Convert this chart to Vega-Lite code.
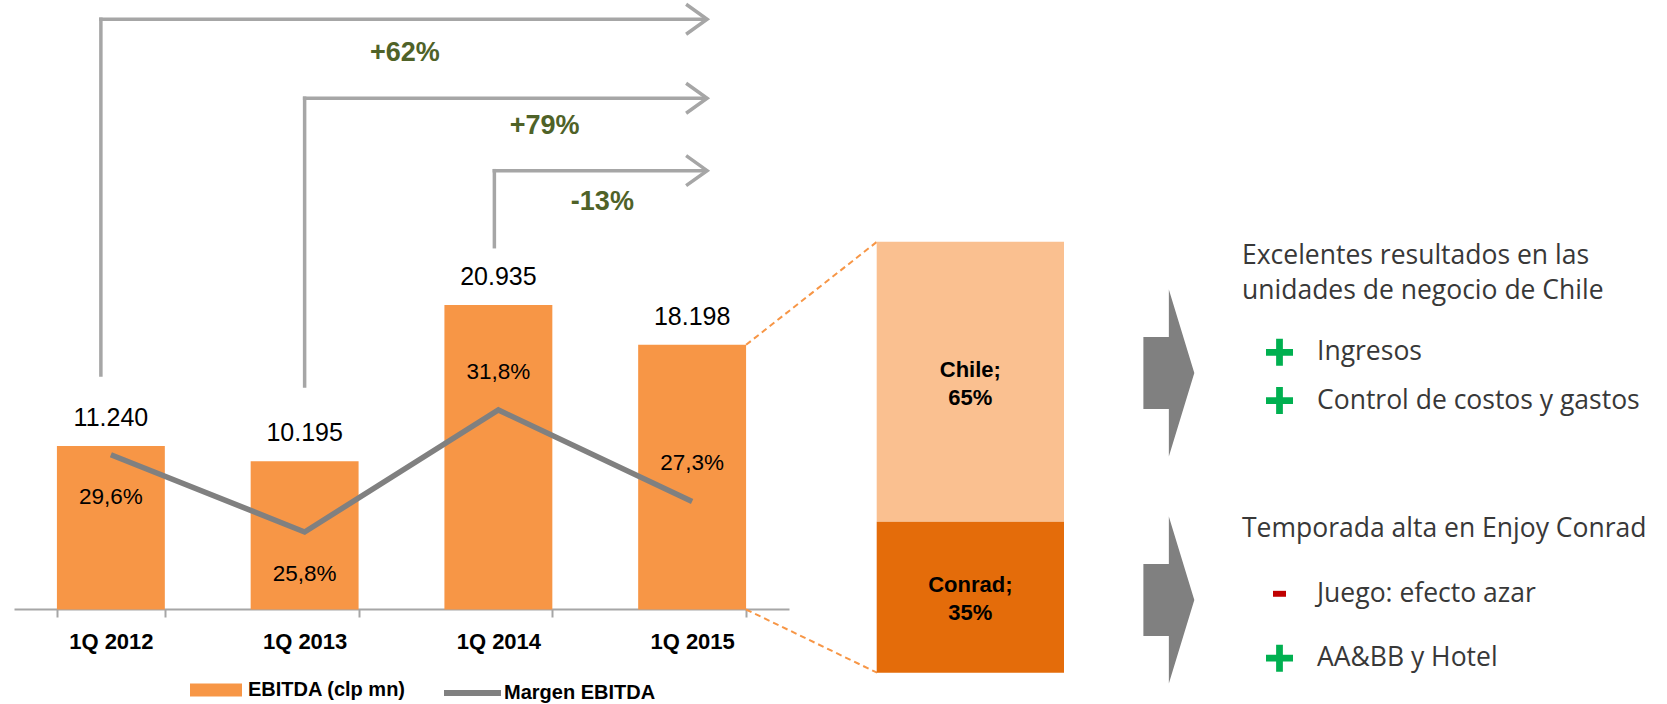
{
  "$schema": "https://vega.github.io/schema/vega-lite/v6.json",
  "width": 1667,
  "height": 704,
  "autosize": {"type": "none"},
  "padding": 0,
  "background": "white",
  "config": {
    "view": {"stroke": null},
    "locale": {"number": {"decimal": ",", "thousands": ".", "grouping": [3], "currency": ["$", ""], "minus": "-"}},
    "text": {"font": "Liberation Sans"}
  },
  "datasets": {
    "quarters": [
      {"quarter": "1Q 2012", "ebitda": 11240, "margin": 0.296},
      {"quarter": "1Q 2013", "ebitda": 10195, "margin": 0.258},
      {"quarter": "1Q 2014", "ebitda": 20935, "margin": 0.318},
      {"quarter": "1Q 2015", "ebitda": 18198, "margin": 0.273}
    ],
    "growth": [
      {"from": "1Q 2012", "to": "1Q 2015", "growth": 0.62},
      {"from": "1Q 2013", "to": "1Q 2015", "growth": 0.79},
      {"from": "1Q 2014", "to": "1Q 2015", "growth": -0.13}
    ],
    "mix": [
      {"segment": "Chile", "share": 0.65, "label": "Chile; 65%"},
      {"segment": "Conrad", "share": 0.35, "label": "Conrad; 35%"}
    ],
    "notes": [
      {"text": "Excelentes resultados en las\nunidades de negocio de Chile", "kind": "heading"},
      {"text": "Ingresos", "kind": "bullet", "sign": "+"},
      {"text": "Control de costos y gastos", "kind": "bullet", "sign": "+"},
      {"text": "Temporada alta en Enjoy Conrad", "kind": "heading"},
      {"text": "Juego: efecto azar", "kind": "bullet", "sign": "-"},
      {"text": "AA&BB y Hotel", "kind": "bullet", "sign": "+"}
    ]
  },
  "resolve": {"scale": {"x": "independent", "y": "independent", "color": "independent", "shape": "independent"}},
  "layer": [
    {
      "layer": [
        {
          "data": {"name": "quarters"},
          "mark": {"type": "bar"},
          "encoding": {
            "x": {
              "field": "quarter", "type": "nominal",
              "scale": {"domain": ["1Q 2012", "1Q 2013", "1Q 2014", "1Q 2015"], "range": [14, 789], "paddingInner": 0.443, "paddingOuter": 0.2215},
              "axis": {
                "title": null, "offset": -95, "labelAngle": 0, "grid": false,
                "domainColor": "#a6a6a6", "domainWidth": 2,
                "tickColor": "#a6a6a6", "tickWidth": 2, "tickSize": 8, "tickBand": "extent",
                "labelFont": "Liberation Sans", "labelFontSize": 22, "labelFontWeight": "bold", "labelColor": "black", "labelPadding": 14
              }
            },
            "y": {"field": "ebitda", "type": "quantitative", "scale": {"domain": [0, 40000], "range": [609.5, 27.74], "nice": false, "zero": false}, "axis": null},
            "color": {
              "datum": "EBITDA (clp mn)",
              "scale": {"range": ["#f79646"]},
              "legend": {
                "title": null, "orient": "none", "legendX": 190, "legendY": 664, "padding": 0,
                "symbolType": "M-1,-0.25H1V0.25H-1Z", "symbolSize": 2704, "symbolStrokeWidth": 0, "symbolOpacity": 1,
                "labelFont": "Liberation Sans", "labelFontSize": 20, "labelFontWeight": "bold", "labelColor": "black", "labelOffset": 6
              }
            }
          }
        },
        {
          "data": {"name": "quarters"},
          "mark": {"type": "text", "dy": -28, "fontSize": 25, "baseline": "middle", "align": "center", "color": "black", "font": "Liberation Sans"},
          "encoding": {
            "x": {"field": "quarter", "type": "nominal"},
            "y": {"field": "ebitda", "type": "quantitative"},
            "text": {"field": "ebitda", "type": "quantitative", "format": ",d"}
          }
        },
        {
          "data": {"name": "growth"},
          "transform": [{"filter": "datum.from === '1Q 2012'"}],
          "layer": [
            {"mark": {"type": "rule", "color": "#a6a6a6", "strokeWidth": 3.5, "strokeCap": "square", "xOffset": -10},
             "encoding": {"x": {"field": "from", "type": "nominal"}, "y": {"datum": 16124}, "y2": {"datum": 40581}}},
            {"mark": {"type": "rule", "color": "#a6a6a6", "strokeWidth": 3.5, "strokeCap": "square", "xOffset": -10, "x2Offset": 13},
             "encoding": {"x": {"field": "from", "type": "nominal"}, "x2": {"field": "to"}, "y": {"datum": 40581}}},
            {"mark": {"type": "point", "shape": "M-1,-0.714L0,0L-1,0.714", "size": 1764, "filled": false, "color": "#a6a6a6", "strokeWidth": 3.5, "opacity": 1, "xOffset": 15},
             "encoding": {"x": {"field": "to", "type": "nominal"}, "y": {"datum": 40581}}},
            {"mark": {"type": "text", "font": "Liberation Sans", "fontSize": 27, "fontWeight": "bold", "color": "#4f6228", "dx": 294, "dy": 34, "baseline": "middle", "align": "center"},
             "encoding": {"x": {"field": "from", "type": "nominal"}, "y": {"datum": 40581}, "text": {"field": "growth", "type": "quantitative", "format": "+.0%"}}}
          ]
        },
        {
          "data": {"name": "growth"},
          "transform": [{"filter": "datum.from === '1Q 2013'"}],
          "layer": [
            {"mark": {"type": "rule", "color": "#a6a6a6", "strokeWidth": 3.5, "strokeCap": "square"},
             "encoding": {"x": {"field": "from", "type": "nominal"}, "y": {"datum": 15368}, "y2": {"datum": 35149}}},
            {"mark": {"type": "rule", "color": "#a6a6a6", "strokeWidth": 3.5, "strokeCap": "square", "x2Offset": 13},
             "encoding": {"x": {"field": "from", "type": "nominal"}, "x2": {"field": "to"}, "y": {"datum": 35149}}},
            {"mark": {"type": "point", "shape": "M-1,-0.714L0,0L-1,0.714", "size": 1764, "filled": false, "color": "#a6a6a6", "strokeWidth": 3.5, "opacity": 1, "xOffset": 15},
             "encoding": {"x": {"field": "to", "type": "nominal"}, "y": {"datum": 35149}}},
            {"mark": {"type": "text", "font": "Liberation Sans", "fontSize": 27, "fontWeight": "bold", "color": "#4f6228", "dx": 240, "dy": 28, "baseline": "middle", "align": "center"},
             "encoding": {"x": {"field": "from", "type": "nominal"}, "y": {"datum": 35149}, "text": {"field": "growth", "type": "quantitative", "format": "+.0%"}}}
          ]
        },
        {
          "data": {"name": "growth"},
          "transform": [{"filter": "datum.from === '1Q 2014'"}],
          "layer": [
            {"mark": {"type": "rule", "color": "#a6a6a6", "strokeWidth": 3.5, "strokeCap": "square", "xOffset": -4},
             "encoding": {"x": {"field": "from", "type": "nominal"}, "y": {"datum": 24945}, "y2": {"datum": 30171}}},
            {"mark": {"type": "rule", "color": "#a6a6a6", "strokeWidth": 3.5, "strokeCap": "square", "xOffset": -4, "x2Offset": 13},
             "encoding": {"x": {"field": "from", "type": "nominal"}, "x2": {"field": "to"}, "y": {"datum": 30171}}},
            {"mark": {"type": "point", "shape": "M-1,-0.714L0,0L-1,0.714", "size": 1764, "filled": false, "color": "#a6a6a6", "strokeWidth": 3.5, "opacity": 1, "xOffset": 15},
             "encoding": {"x": {"field": "to", "type": "nominal"}, "y": {"datum": 30171}}},
            {"mark": {"type": "text", "font": "Liberation Sans", "fontSize": 27, "fontWeight": "bold", "color": "#4f6228", "dx": 104, "dy": 31, "baseline": "middle", "align": "center"},
             "encoding": {"x": {"field": "from", "type": "nominal"}, "y": {"datum": 30171}, "text": {"field": "growth", "type": "quantitative", "format": "+.0%"}}}
          ]
        },
        {
          "data": {"name": "quarters"},
          "transform": [{"filter": "datum.quarter === '1Q 2015'"}],
          "layer": [
            {"mark": {"type": "rule", "color": "#f79646", "strokeWidth": 2, "strokeDash": [6, 4], "x2Offset": 131},
             "encoding": {"x": {"field": "quarter", "type": "nominal", "bandPosition": 1}, "x2": {"field": "quarter", "bandPosition": 1}, "y": {"field": "ebitda", "type": "quantitative"}, "y2": {"datum": 25289}}},
            {"mark": {"type": "rule", "color": "#f79646", "strokeWidth": 2, "strokeDash": [6, 4], "x2Offset": 131},
             "encoding": {"x": {"field": "quarter", "type": "nominal", "bandPosition": 1}, "x2": {"field": "quarter", "bandPosition": 1}, "y": {"datum": 0}, "y2": {"datum": -4345}}}
          ]
        }
      ]
    },
    {
      "data": {"name": "quarters"},
      "encoding": {
        "x": {"field": "quarter", "type": "nominal", "scale": {"domain": ["1Q 2012", "1Q 2013", "1Q 2014", "1Q 2015"], "range": [14, 789], "paddingInner": 0.443, "paddingOuter": 0.2215}, "axis": null},
        "y": {"field": "margin", "type": "quantitative", "scale": {"domain": [0.2, 0.35], "range": [649.9, 344.9], "nice": false, "zero": false}, "axis": null}
      },
      "layer": [
        {
          "mark": {"type": "line", "strokeWidth": 5.5, "strokeJoin": "miter", "strokeCap": "butt"},
          "encoding": {
            "color": {
              "datum": "Margen EBITDA",
              "scale": {"range": ["#808080"]},
              "legend": {
                "title": null, "orient": "none", "legendX": 441, "legendY": 661.5, "padding": 0,
                "symbolType": "stroke", "symbolSize": 3249, "symbolStrokeWidth": 6,
                "labelFont": "Liberation Sans", "labelFontSize": 20, "labelFontWeight": "bold", "labelColor": "black", "labelOffset": 0
              }
            }
          }
        },
        {
          "transform": [{"filter": "datum.quarter === '1Q 2012' || datum.quarter === '1Q 2013'"}],
          "mark": {"type": "text", "font": "Liberation Sans", "fontSize": 22.5, "color": "black", "dy": 42, "baseline": "middle", "align": "center"},
          "encoding": {"text": {"field": "margin", "type": "quantitative", "format": ".1%"}}
        },
        {
          "transform": [{"filter": "datum.quarter === '1Q 2014' || datum.quarter === '1Q 2015'"}],
          "mark": {"type": "text", "font": "Liberation Sans", "fontSize": 22.5, "color": "black", "dy": -38, "baseline": "middle", "align": "center"},
          "encoding": {"text": {"field": "margin", "type": "quantitative", "format": ".1%"}}
        }
      ]
    },
    {
      "data": {"name": "mix"},
      "resolve": {"scale": {"y": "independent"}},
      "encoding": {
        "x": {"datum": "1Q 2015", "type": "nominal", "scale": {"range": [876.7, 1064], "paddingInner": 0, "paddingOuter": 0}, "axis": null}
      },
      "layer": [
        {
          "transform": [{"stack": "share", "groupby": [], "sort": [{"field": "segment", "order": "descending"}], "as": ["s0", "s1"]}],
          "mark": {"type": "bar"},
          "encoding": {
            "y": {"field": "s0", "type": "quantitative", "scale": {"domain": [0, 1], "range": [672.7, 241.7], "nice": false, "zero": false}, "axis": null},
            "y2": {"field": "s1"},
            "color": {"field": "segment", "type": "nominal", "scale": {"domain": ["Chile", "Conrad"], "range": ["#fac090", "#e46c0a"]}, "legend": null}
          }
        },
        {
          "mark": {"type": "text", "font": "Liberation Sans", "fontSize": 22, "fontWeight": "bold", "lineBreak": " ", "lineHeight": 28, "baseline": "middle", "align": "center", "color": "black"},
          "encoding": {
            "y": {"field": "segment", "type": "nominal", "scale": {"type": "point", "domain": ["Chile", "Conrad"], "range": [370, 585], "padding": 0}, "axis": null},
            "text": {"field": "label"}
          }
        },
        {
          "mark": {"type": "point", "shape": "M-0.305,-0.431H0V-1L0.305,0L0,1V0.431H-0.305Z", "size": 27889, "filled": true, "opacity": 1, "color": "#808080", "strokeWidth": 0, "xOffset": 198.5},
          "encoding": {
            "y": {"field": "segment", "type": "nominal", "scale": {"type": "point", "domain": ["Chile", "Conrad"], "range": [373, 600], "padding": 0}, "axis": null}
          }
        }
      ]
    },
    {
      "data": {"name": "notes"},
      "encoding": {
        "x": {"field": "kind", "type": "nominal", "scale": {"type": "point", "domain": ["heading", "sign", "bullet"], "range": [1242, 1317], "padding": 0}, "axis": null},
        "y": {
          "field": "text", "type": "nominal",
          "scale": {
            "type": "point", "padding": 0, "range": [255.7, 658.2],
            "domain": ["Excelentes resultados en las\nunidades de negocio de Chile", " 1", " 2", " 3", " 4", " 5", "Ingresos", " 6", " 7", "Control de costos y gastos", " 8", " 9", " 10", " 11", " 12", " 13", " 14", "Temporada alta en Enjoy Conrad", " 15", " 16", " 17", "Juego: efecto azar", " 18", " 19", " 20", "AA&BB y Hotel"]
          },
          "axis": null
        }
      },
      "layer": [
        {
          "mark": {"type": "text", "align": "left", "baseline": "middle", "font": "Open Sans", "fontSize": 26.5, "lineBreak": "\n", "lineHeight": 35, "color": "#383838"},
          "encoding": {"text": {"field": "text"}}
        },
        {
          "transform": [{"filter": "datum.sign"}],
          "mark": {"type": "point", "filled": true, "opacity": 1, "size": 729, "strokeWidth": 0},
          "encoding": {
            "x": {"datum": "sign", "type": "nominal"},
            "shape": {"field": "sign", "type": "nominal", "scale": {"domain": ["+", "-"], "range": ["M-1,-0.25H-0.25V-1H0.25V-0.25H1V0.25H0.25V1H-0.25V0.25H-1Z", "M-0.48,-0.22H0.48V0.22H-0.48Z"]}, "legend": null},
            "color": {"field": "sign", "type": "nominal", "scale": {"domain": ["+", "-"], "range": ["#00b050", "#c00000"]}, "legend": null}
          }
        }
      ]
    }
  ]
}
